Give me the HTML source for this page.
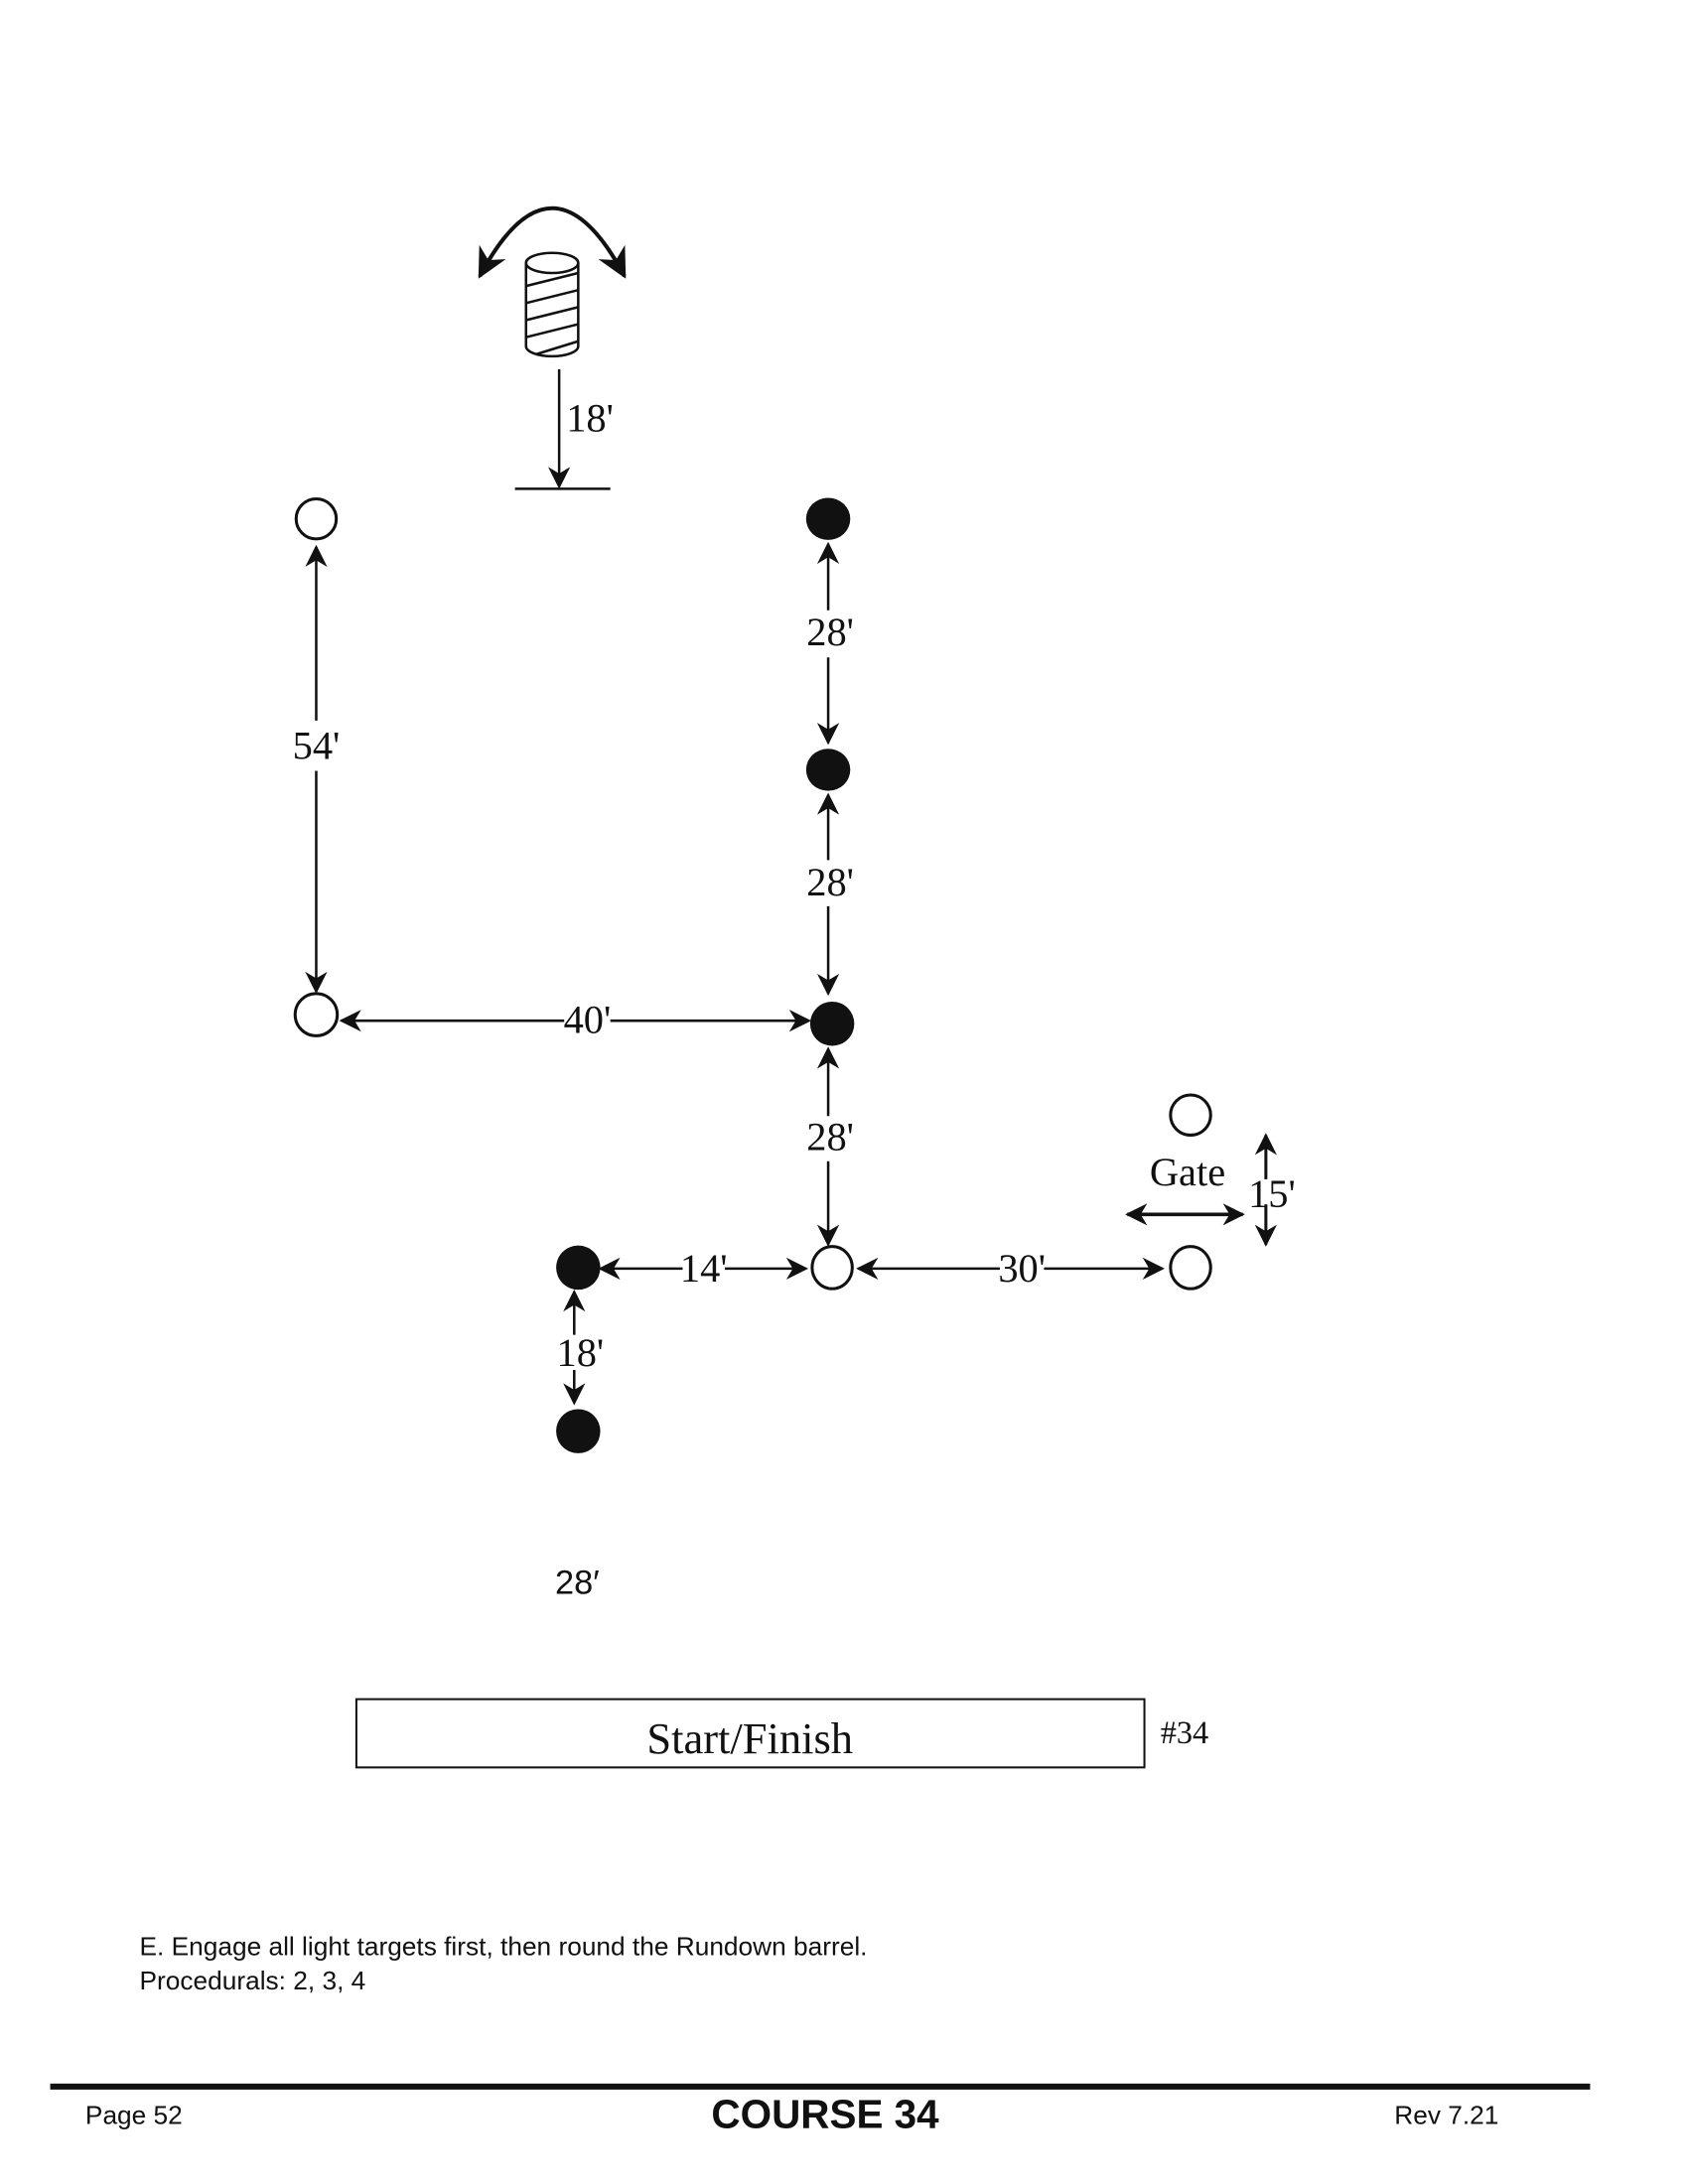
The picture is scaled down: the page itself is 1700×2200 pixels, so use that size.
<!DOCTYPE html>
<html><head><meta charset="utf-8"><style>
html,body{margin:0;padding:0;background:#fff;}
svg{display:block;}
.s{font-family:"Liberation Serif",serif;fill:#111;}
.a{font-family:"Liberation Sans",sans-serif;fill:#111;}
</style></head><body>
<svg width="1700" height="2200" viewBox="0 0 1700 2200" xmlns="http://www.w3.org/2000/svg">
<defs>
<marker id="big" viewBox="0 0 10 10" refX="9" refY="5" markerWidth="22" markerHeight="22" markerUnits="userSpaceOnUse" orient="auto-start-reverse">
<path d="M0,0 L10,5 L0,10 L3,5 z" fill="#111"/></marker>
<marker id="huge" viewBox="0 0 10 10" refX="9" refY="5" markerWidth="30" markerHeight="30" markerUnits="userSpaceOnUse" orient="auto-start-reverse">
<path d="M0,0 L10,5 L0,10 L3,5 z" fill="#111"/></marker>
</defs>
<g transform="scale(1.011)">
<g stroke="#111" stroke-width="2.5" fill="none">
<path d="M478,275 Q550,140 622,275" stroke-width="4" marker-start="url(#huge)" marker-end="url(#huge)"/>
<path d="M524,262 L524,345 A26,10 0 0 0 576,345 L576,262"/>
<ellipse cx="550" cy="262" rx="26" ry="10"/>
<path d="M524,285 L576,272 M524,302 L576,289 M524,319 L576,306 M524,336 L576,323 M534,353 L576,340"/>
<line x1="557" y1="368" x2="557" y2="485" marker-end="url(#big)"/>
<line x1="513" y1="487" x2="608" y2="487"/>
<line x1="315" y1="545" x2="315" y2="718" marker-start="url(#big)"/>
<line x1="315" y1="768" x2="315" y2="988" marker-end="url(#big)"/>
<line x1="825" y1="542" x2="825" y2="608" marker-start="url(#big)"/>
<line x1="825" y1="655" x2="825" y2="740" marker-end="url(#big)"/>
<line x1="825" y1="792" x2="825" y2="857" marker-start="url(#big)"/>
<line x1="825" y1="903" x2="825" y2="990" marker-end="url(#big)"/>
<line x1="825" y1="1045" x2="825" y2="1112" marker-start="url(#big)"/>
<line x1="825" y1="1157" x2="825" y2="1240" marker-end="url(#big)"/>
<line x1="340" y1="1017" x2="806" y2="1017" marker-start="url(#big)" marker-end="url(#big)"/>
<line x1="598" y1="1264" x2="803" y2="1264" marker-start="url(#big)" marker-end="url(#big)"/>
<line x1="855" y1="1264" x2="1158" y2="1264" marker-start="url(#big)" marker-end="url(#big)"/>
<line x1="572" y1="1287" x2="572" y2="1330" marker-start="url(#big)"/>
<line x1="572" y1="1365" x2="572" y2="1398" marker-end="url(#big)"/>
<line x1="1123" y1="1210" x2="1238" y2="1210" stroke-width="3.5" marker-start="url(#big)" marker-end="url(#big)"/>
<line x1="1261" y1="1131" x2="1261" y2="1175" stroke-width="3" marker-start="url(#big)"/>
<line x1="1261" y1="1200" x2="1261" y2="1240" stroke-width="3" marker-end="url(#big)"/>
<ellipse cx="315" cy="517" rx="20" ry="20" stroke-width="3"/>
<ellipse cx="315" cy="1011" rx="21" ry="21" stroke-width="3"/>
<ellipse cx="829" cy="1263" rx="20" ry="21" stroke-width="3"/>
<ellipse cx="1186" cy="1263" rx="20" ry="21" stroke-width="3"/>
<ellipse cx="1186" cy="1111" rx="20" ry="20" stroke-width="3"/>
<rect x="355" y="1693" width="785" height="68" stroke-width="2"/>
</g>
<g fill="#111">
<ellipse cx="825" cy="517" rx="22" ry="21"/>
<ellipse cx="825" cy="767" rx="22" ry="21"/>
<ellipse cx="829" cy="1020" rx="22" ry="22"/>
<ellipse cx="576" cy="1263" rx="22" ry="22"/>
<ellipse cx="576" cy="1426" rx="22" ry="22"/>
<rect x="50" y="2076" width="1534" height="6"/>
</g>
<g class="s" font-size="40">
<text x="564" y="430">18'</text>
<text x="315" y="756" text-anchor="middle">54'</text>
<text x="827" y="643" text-anchor="middle">28'</text>
<text x="827" y="892" text-anchor="middle">28'</text>
<text x="827" y="1146" text-anchor="middle">28'</text>
<rect x="562" y="1000" width="46" height="30" fill="#fff"/>
<text x="585" y="1029" text-anchor="middle">40'</text>
<rect x="680" y="1250" width="42" height="28" fill="#fff"/>
<text x="701" y="1277" text-anchor="middle">14'</text>
<rect x="996" y="1250" width="44" height="28" fill="#fff"/>
<text x="1018" y="1277" text-anchor="middle">30'</text>
<text x="578" y="1361" text-anchor="middle">18'</text>
<text x="1183" y="1181" text-anchor="middle">Gate</text>
<text x="1267" y="1203" text-anchor="middle">15'</text>
<text x="747" y="1747" text-anchor="middle" font-size="44">Start/Finish</text>
<text x="1156" y="1737" font-size="32">#34</text>
</g>
<g class="a">
<text x="575" y="1588" text-anchor="middle" font-size="34">28′</text>
<text x="139" y="1948" font-size="26">E. Engage all light targets first, then round the Rundown barrel.</text>
<text x="139" y="1982" font-size="26">Procedurals:  2, 3, 4</text>
<text x="85" y="2116" font-size="26">Page 52</text>
<text x="822" y="2120" font-size="40" font-weight="bold" text-anchor="middle">COURSE 34</text>
<text x="1389" y="2116" font-size="26">Rev 7.21</text>
</g>
</g>
</svg>
</body></html>
